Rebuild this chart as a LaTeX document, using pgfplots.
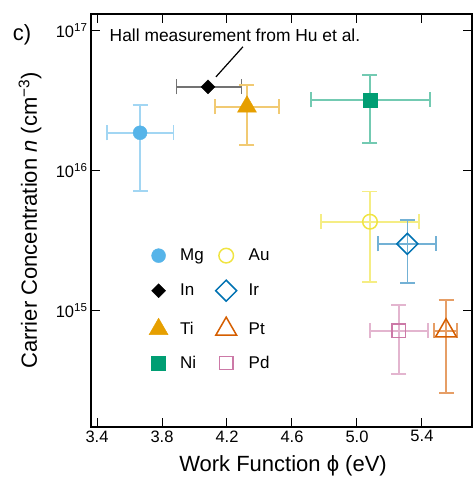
\documentclass[border=0pt]{standalone}
\usepackage{fontspec}
\setmainfont{Liberation Sans}
\usepackage{pgfplots}
\pgfplotsset{compat=1.18}

\definecolor{cMg}{RGB}{86,180,233}
\definecolor{cTi}{RGB}{230,159,0}
\definecolor{cNi}{RGB}{0,158,115}
\definecolor{cAu}{RGB}{240,228,66}
\definecolor{cIr}{RGB}{0,114,178}
\definecolor{cPt}{RGB}{213,94,0}
\definecolor{cPd}{RGB}{204,121,167}

\pgfplotsset{
  eb/.style={
    /pgfplots/error bars/x dir=both,
    /pgfplots/error bars/y dir=both,
    /pgfplots/error bars/x explicit,
    /pgfplots/error bars/y explicit,
    /pgfplots/error bars/error bar style={line width=1.6pt, #1},
    /pgfplots/error bars/error mark options={rotate=90, mark size=7.5pt, line width=1.6pt, #1},
  },
}

\begin{document}
\begin{tikzpicture}
\begin{axis}[
    name=ax,
    scale only axis,
    width=381pt, height=413pt,
    xmode=linear, ymode=log,
    xmin=3.363, xmax=5.708,
    ymin=1.48e14, ymax=1.32e17,
    xtick={3.4,3.8,4.2,4.6,5.0,5.4},
    xticklabels={3.4,3.8,4.2,4.6,5.0,5.4},
    ytick={1e15,1e16,1e17},
    yticklabels={10\textsuperscript{15},10\textsuperscript{16},10\textsuperscript{17}},
    yminorticks=false,
    tick align=inside,
    major tick length=9pt,
    tick style={line width=1pt, black},
    axis line style={line width=1.3pt},
    ticklabel style={font=\fontsize{16.5}{19}\selectfont},
    xlabel={Work Function ϕ (eV)},
    ylabel={Carrier Concentration \textit{n} (cm\textsuperscript{−3})},
    every axis x label/.style={at={(axis description cs:0.504,-0.094)}, anchor=center,
      font=\fontsize{22}{26}\selectfont},
    every axis y label/.style={at={(axis description cs:-0.160,0.5)}, rotate=90, anchor=center,
      font=\fontsize{22}{26}\selectfont},
    clip=false,
    legend columns=2,
    legend cell align=left,
    legend style={draw=none, fill=none, at={(0.144,0.441)}, anchor=north west,
      font=\fontsize{17}{20}\selectfont, row sep=16pt},
    /tikz/every odd column/.append style={column sep=10pt},
    /tikz/every even column/.append style={column sep=10pt},
]
% Mg
\addplot[only marks, mark=*, mark size=7pt, color=cMg, eb={cMg!55}]
  coordinates {(3.665,1.87e16) += (0.205,1.09e16) -= (0.205,1.15e16)};
\addlegendentry{Mg}
% Au
\addplot[only marks, mark=o, mark size=7.3pt, mark options={line width=1.5pt}, color=cAu, eb={cAu!65}]
  coordinates {(5.08,4.33e15) += (0.30,2.77e15) -= (0.30,2.72e15)};
\addlegendentry{Au}
% In (Hall)
\addplot[only marks, mark=square*, mark size=4.95pt, mark options={rotate=45}, color=black, eb={black!55}]
  coordinates {(4.083,3.98e16) += (0.207,0) -= (0.193,0)};
\addlegendentry{In}
% Ir
\addplot[only marks, mark=square, mark size=7.4pt, mark options={rotate=45, line width=1.5pt}, color=cIr, eb={cIr!55}]
  coordinates {(5.31,3.01e15) += (0.176,1.46e15) -= (0.181,1.43e15)};
\addlegendentry{Ir}
% Ti
\addplot[only marks, mark=triangle*, mark size=11pt, color=cTi, eb={cTi!55}]
  coordinates {(4.323,2.87e16) += (0.197,1.24e16) -= (0.197,1.34e16)};
\addlegendentry{Ti}
% Pt
\addplot[only marks, mark=triangle, mark size=12pt, mark options={line width=1.5pt}, color=cPt, eb={cPt!60}]
  coordinates {(5.548,7.2e14) += (0.067,4.8e14) -= (0.074,4.6e14)};
\addlegendentry{Pt}
% Ni
\addplot[only marks, mark=square*, mark size=7pt, color=cNi, eb={cNi!55}]
  coordinates {(5.08,3.21e16) += (0.369,1.64e16) -= (0.363,1.63e16)};
\addlegendentry{Ni}
% Pd
\addplot[only marks, mark=square, mark size=6.7pt, mark options={line width=1.5pt}, color=cPd, eb={cPd!55}]
  coordinates {(5.258,7.2e14) += (0.179,3.8e14) -= (0.178,3.65e14)};
\addlegendentry{Pd}

\node[font=\fontsize{17.4}{20}\selectfont, anchor=center] at (axis cs:4.249,9.37e16) {Hall measurement from Hu et al.};
\draw[line width=1.2pt] (axis cs:4.298,7.69e16) -- (axis cs:4.132,4.69e16);
\node[font=\fontsize{22}{26}\selectfont, anchor=center] at (rel axis cs:-0.181,0.949) {c)};
\end{axis}
\pgfresetboundingbox
\path ([xshift=-91pt,yshift=-51pt]ax.south west) rectangle ([xshift=1pt,yshift=14pt]ax.north east);
\end{tikzpicture}
\end{document}
